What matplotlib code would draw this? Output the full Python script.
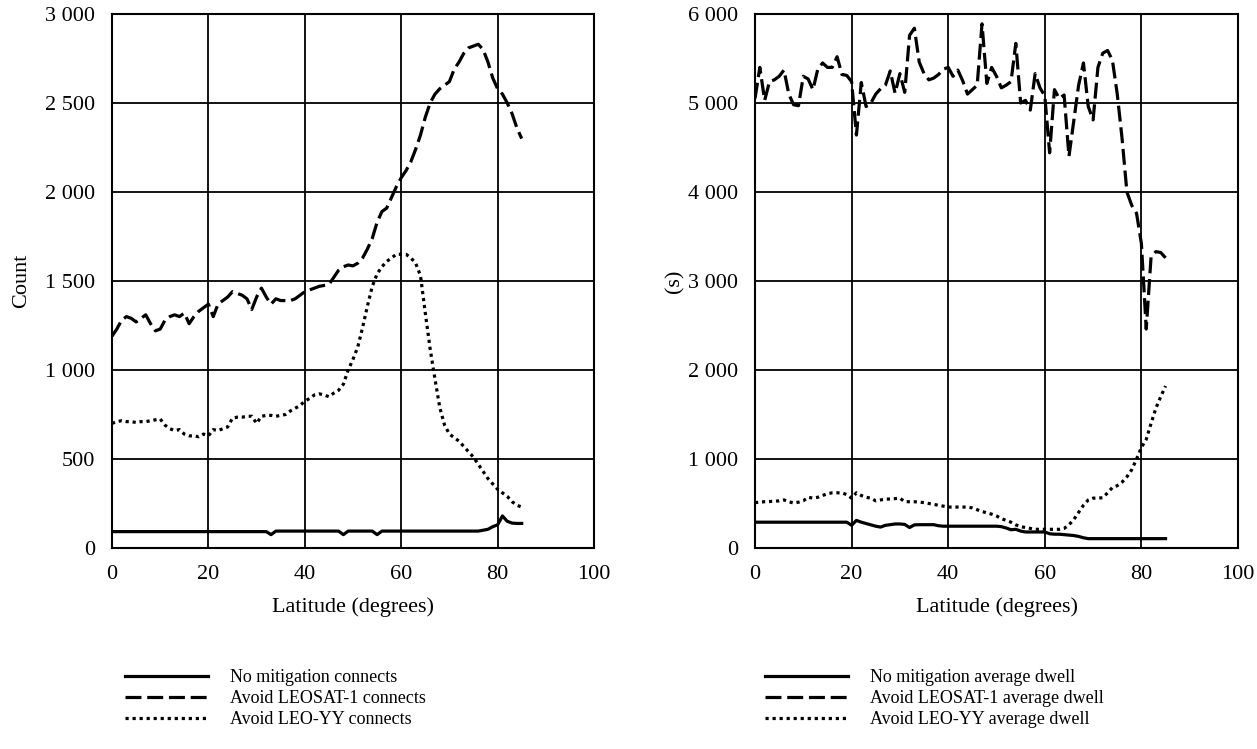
import matplotlib
matplotlib.use("Agg")
import matplotlib.pyplot as plt
from matplotlib.ticker import FuncFormatter, MultipleLocator

plt.rcParams['font.family'] = ['Liberation Serif', 'DejaVu Serif']
plt.rcParams['font.size'] = 16

latitude = list(range(0, 86))

# Left chart: connects (count)
no_mitigation_connects = [
    92, 92, 92, 92, 92, 92, 92, 92, 92, 92,
    92, 92, 92, 92, 92, 92, 92, 92, 92, 92,
    92, 92, 92, 92, 92, 92, 92, 92, 92, 92,
    92, 92, 92, 75, 95, 95, 95, 95, 95, 95,
    95, 95, 95, 95, 95, 95, 95, 95, 75, 95,
    95, 95, 95, 95, 95, 75, 95, 95, 95, 95,
    95, 95, 95, 95, 95, 95, 95, 95, 95, 95,
    95, 95, 95, 95, 95, 95, 95, 100, 105, 120,
    130, 180, 150, 140, 138, 138]
leosat1_connects = [
    1190, 1230, 1280, 1300, 1290, 1270, 1290, 1310, 1260, 1220,
    1230, 1280, 1300, 1310, 1300, 1320, 1260, 1300, 1330, 1350,
    1370, 1300, 1370, 1390, 1410, 1440, 1430, 1420, 1400, 1340,
    1410, 1460, 1410, 1370, 1400, 1390, 1390, 1390, 1400, 1420,
    1440, 1450, 1460, 1470, 1475, 1480, 1520, 1560, 1580, 1590,
    1585, 1600, 1630, 1680, 1740, 1830, 1890, 1910, 1970, 2030,
    2080, 2120, 2170, 2240, 2320, 2420, 2500, 2550, 2580, 2600,
    2620, 2690, 2730, 2780, 2810, 2820, 2830, 2800, 2730, 2640,
    2580, 2550, 2500, 2440, 2360, 2300]
leoyy_connects = [
    700, 710, 715, 710, 710, 705, 710, 710, 715, 720,
    725, 690, 670, 660, 665, 640, 630, 630, 625, 640,
    630, 665, 660, 670, 680, 730, 735, 735, 740, 740,
    700, 740, 745, 745, 740, 745, 750, 770, 785, 800,
    825, 840, 860, 866, 860, 850, 870, 886, 920, 1000,
    1060, 1130, 1240, 1360, 1470, 1540, 1580, 1610, 1630, 1650,
    1650, 1650, 1630, 1600, 1530, 1320, 1120, 950, 790, 690,
    640, 620, 600, 570, 540, 510, 470, 430, 390, 360,
    330, 310, 290, 260, 240, 230]

# Right chart: average dwell (s)
no_mitigation_dwell = [
    290, 290, 290, 290, 290, 290, 290, 290, 290, 290,
    290, 290, 290, 290, 290, 290, 290, 290, 290, 290,
    255, 310, 290, 275, 260, 245, 235, 255, 262, 270,
    270, 265, 230, 260, 262, 262, 262, 262, 250, 245,
    245, 245, 245, 245, 245, 245, 245, 245, 245, 245,
    245, 240, 225, 205, 210, 190, 180, 180, 180, 180,
    180, 160, 155, 155, 150, 145, 140, 130, 115, 105,
    105, 105, 105, 105, 105, 105, 105, 105, 105, 105,
    105, 105, 105, 105, 105, 105]
leosat1_dwell = [
    5050, 5400, 5030, 5240, 5260, 5300, 5370, 5100, 4980, 4970,
    5300, 5270, 5150, 5380, 5450, 5400, 5400, 5520, 5320, 5310,
    5240, 4640, 5230, 4960, 5000, 5100, 5160, 5200, 5360, 5110,
    5330, 5120, 5760, 5840, 5460, 5330, 5260, 5280, 5320, 5380,
    5400, 5300, 5370, 5250, 5100, 5150, 5200, 5890, 5220, 5400,
    5300, 5170, 5200, 5240, 5670, 5000, 5030, 4920, 5330, 5170,
    5080, 4440, 5150, 5050, 5090, 4400, 4800, 5200, 5450, 4960,
    4810, 5400, 5560, 5590, 5480, 5100, 4600, 4000, 3850, 3760,
    3420, 2460, 3270, 3330, 3320, 3260]
leoyy_dwell = [
    510, 515, 520, 522, 525, 530, 540, 520, 505, 515,
    530, 570, 560, 570, 590, 610, 620, 620, 620, 600,
    560, 620, 590, 570, 560, 530, 540, 550, 550, 555,
    560, 520, 520, 520, 515, 510, 500, 490, 480, 470,
    460, 460, 460, 460, 460, 450, 430, 410, 395, 380,
    360, 330, 310, 290, 260, 240, 230, 220, 210, 210,
    210, 210, 210, 210, 220, 260, 320, 400, 480, 540,
    560, 560, 565, 620, 680, 700, 740, 800, 880, 1000,
    1130, 1220, 1400, 1570, 1700, 1820]

left_labels = ["No mitigation connects", "Avoid LEOSAT-1 connects", "Avoid LEO-YY connects"]
right_labels = ["No mitigation average dwell", "Avoid LEOSAT-1 average dwell", "Avoid LEO-YY average dwell"]

W, H = 1257, 749
fig = plt.figure(figsize=(W / 100, H / 100), dpi=100)
ax1 = fig.add_axes([112 / W, 1 - 548 / H, (594 - 112) / W, (548 - 14) / H])
ax2 = fig.add_axes([755 / W, 1 - 548 / H, (1238 - 755) / W, (548 - 14) / H])

lw = 2.3
styles = [dict(linestyle='-'),
          dict(linestyle=(0, (5.0, 1.8))),
          dict(linestyle=(0, (1.0, 1.2)))]

fmt = FuncFormatter(lambda v, p: f"{v:,.0f}".replace(",", " "))

for ax, series, labels, ymax, ystep, ylab, ypad in [
        (ax1, [no_mitigation_connects, leosat1_connects, leoyy_connects], left_labels, 3000, 500, "Count", 10),
        (ax2, [no_mitigation_dwell, leosat1_dwell, leoyy_dwell], right_labels, 6000, 1000, "(s)", 3)]:
    for s, st, lab in zip(series, styles, labels):
        ax.plot(latitude, s, color='black', lw=lw, label=lab, **st)
    ax.set_xlim(0, 100)
    ax.set_ylim(0, ymax)
    ax.xaxis.set_major_locator(MultipleLocator(20))
    ax.yaxis.set_major_locator(MultipleLocator(ystep))
    ax.yaxis.set_major_formatter(fmt)
    ax.grid(True, color='black', lw=1.3)
    ax.set_axisbelow(True)
    for sp in ax.spines.values():
        sp.set_linewidth(1.5)
        sp.set_color('black')
    ax.tick_params(axis='y', length=0, pad=12, labelsize=16)
    ax.tick_params(axis='x', length=0, pad=12, labelsize=16)
    ax.set_xlabel("Latitude (degrees)", fontsize=16, labelpad=10)
    ax.set_ylabel(ylab, fontsize=16, labelpad=ypad)

for ax, labels, x0 in [(ax1, left_labels, 125), (ax2, right_labels, 765)]:
    fig.legend(handles=ax.get_lines(), labels=labels, loc='upper left',
               bbox_to_anchor=(x0 / W, 1 - 669 / H), frameon=False,
               handlelength=4.6, handletextpad=1.2, labelspacing=0.22,
               borderpad=0, borderaxespad=0, fontsize=13)

fig.savefig("out.png", dpi=100)
